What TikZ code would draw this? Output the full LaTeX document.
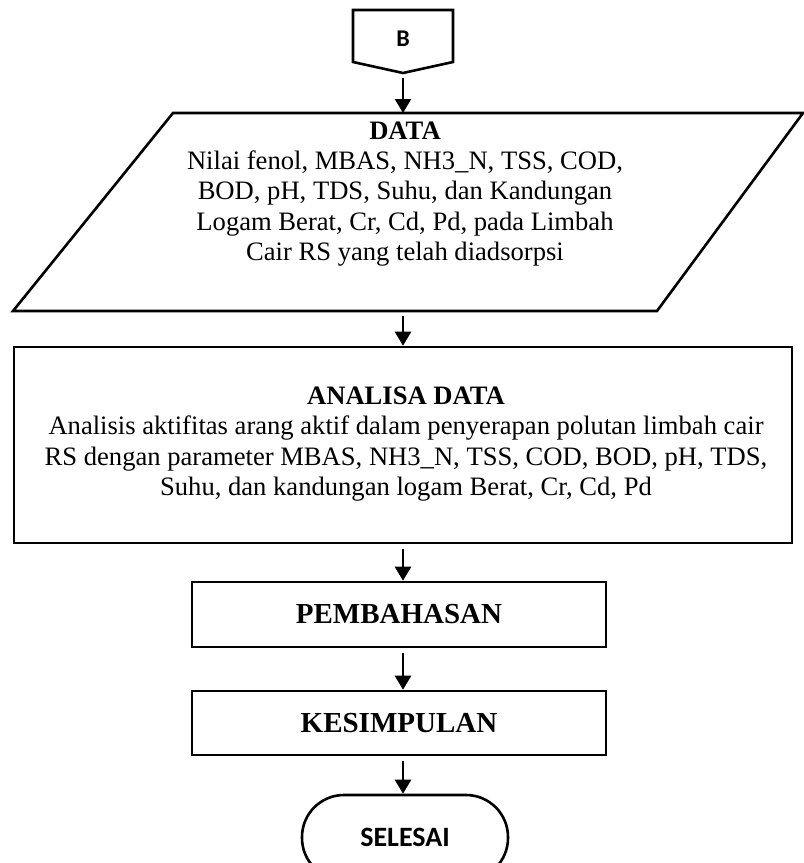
\documentclass[tikz,border=0pt]{standalone}
\usepackage{fontspec}
\setmainfont{Liberation Serif}
\newfontfamily\calfont{Carlito}
\usetikzlibrary{arrows.meta, positioning}

\begin{document}
\begin{tikzpicture}[x=0.5pt, y=-0.5pt,
  shapeline/.style={line width=1.3pt, line join=miter},
  flowarrow/.style={line width=1.2pt, shorten <=2.5pt, -{Triangle[length=7pt, width=8pt]}},
  bodytext/.style={align=center, font=\fontsize{13.3}{15.2}\selectfont},
  procbox/.style={draw, line width=1.3pt, align=center, inner sep=0pt},
  terminal/.style={draw, line width=1.3pt, rounded corners=21pt, inner sep=0pt,
    minimum width=103pt, minimum height=42.5pt}]
\useasboundingbox (0,0) rectangle (804,863);
\clip (0,0) rectangle (804,863);

% off-page connector B
\draw[shapeline] (353,10) -- (453,10) -- (453,62) -- (403,73) -- (353,62) -- cycle;
\node[font=\calfont\bfseries\fontsize{12}{14}\selectfont] (conB) at (403,39) {B};
\coordinate (conBtip) at (403,73);

% data (parallelogram)
\draw[shapeline] (173,113) -- (803,113) -- (657,311) -- (13,311) -- cycle;
\coordinate (dataTop) at (403,113);
\coordinate (dataBot) at (403,311);
\node[bodytext] (data) at (405,194)
  {\textbf{DATA}\\
   Nilai fenol, MBAS, NH3\_N, TSS, COD,\\
   BOD, pH, TDS, Suhu, dan Kandungan\\
   Logam Berat, Cr, Cd, Pd, pada Limbah\\
   Cair RS yang telah diadsorpsi};

% process boxes
\node[procbox, bodytext, minimum width=389pt, minimum height=98pt] (analisa) at (403,445) {};
\node[bodytext] (analisaText) at (406,444)
  {\textbf{ANALISA DATA}\\
   Analisis aktifitas arang aktif dalam penyerapan polutan limbah cair\\
   RS dengan parameter MBAS, NH3\_N, TSS, COD, BOD, pH, TDS,\\
   Suhu, dan kandungan logam Berat, Cr, Cd, Pd};
\node[procbox, minimum width=207pt, minimum height=32.5pt, font=\bfseries\fontsize{14.5}{16}\selectfont] (pemb) at (399,614.5) {PEMBAHASAN};
\node[procbox, minimum width=207pt, minimum height=32pt, font=\bfseries\fontsize{14.5}{16}\selectfont] (kesimp) at (399,723) {KESIMPULAN};

% terminator
\node[terminal] (selesai) at (405,837.5) {};
\node[font=\calfont\bfseries\fontsize{14}{16}\selectfont] (selesaiText) at (405,837) {SELESAI};

% arrows
\draw[flowarrow] (conBtip) -- (dataTop);
\draw[flowarrow] (dataBot) -- (dataBot |- analisa.north);
\draw[flowarrow] (analisa.south) -- (analisa.south |- pemb.north);
\draw[flowarrow] (analisa.south |- pemb.south) -- (analisa.south |- kesimp.north);
\draw[flowarrow] (analisa.south |- kesimp.south) -- (analisa.south |- selesai.north);
\end{tikzpicture}
\end{document}
